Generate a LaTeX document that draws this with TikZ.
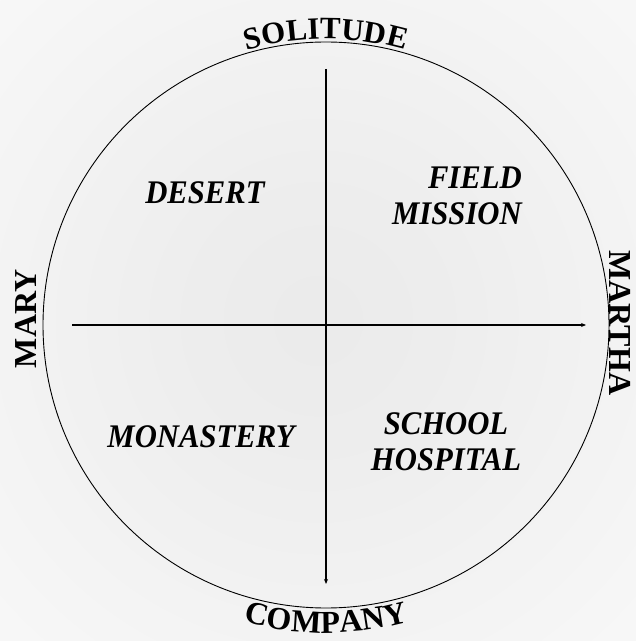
\documentclass[tikz,border=0pt]{standalone}
\usepackage{fontspec}
\setmainfont{Liberation Serif}
\usetikzlibrary{arrows.meta,decorations.text}
\pgfdeclareradialshading{bgshade}{\pgfpoint{0bp}{0bp}}{%
  color(0bp)=(black!8); color(10bp)=(black!7); color(35bp)=(black!3); color(50bp)=(white); color(100bp)=(white)}
\tikzset{
  quad/.style={font=\bfseries\itshape\fontsize{33}{36}\selectfont, inner sep=0pt, xscale=0.93},
  side/.style={font=\bfseries\fontsize{32}{32}\selectfont, inner sep=0pt},
  axis/.style={line width=1.4pt, -{Stealth[length=5pt,width=4pt]}},
  rim/.style={line width=0.9pt}
}
\begin{document}
\begin{tikzpicture}[x=1pt,y=1pt]
\useasboundingbox (0,0) rectangle (636,641);
\shade[shading=bgshade] (0,0) rectangle (636,641);
\coordinate (c) at (326,316);
\draw[rim] (c) circle[radius=283];
% axes
\coordinate (vtop) at (326,572);
\coordinate (vbot) at (326,57);
\coordinate (hleft) at (72,316);
\coordinate (hright) at (586,316);
\draw[axis] (vtop) -- (vbot);
\draw[axis] (hleft) -- (hright);
% quadrant labels
\node[quad] (desert) at (205,448) {DESERT};
\node[quad, align=right, anchor=east] (field) at (522,445) {FIELD\\MISSION};
\node[quad] (monastery) at (201,204) {MONASTERY};
\node[quad, align=center] (school) at (446,199) {SCHOOL\\HOSPITAL};
% side labels
\node[side, rotate=90] (mary) at (26,322) {MARY};
\node[side, rotate=-90] (martha) at (620,318) {MARTHA};
\path[decorate, decoration={text along path, text align=center,
  text format delimiters={|}{|},
  text={|\bfseries\fontsize{31}{31}\selectfont|SOLITUDE}}]
  (c) ++(106:286) arc[start angle=106, end angle=74, radius=286];
\path[decorate, decoration={text along path, text align=center,
  text format delimiters={|}{|},
  text={|\bfseries\fontsize{32}{32}\selectfont|COMPANY}}]
  (c) ++(253:308) arc[start angle=253, end angle=287, radius=308];
\end{tikzpicture}
\end{document}
